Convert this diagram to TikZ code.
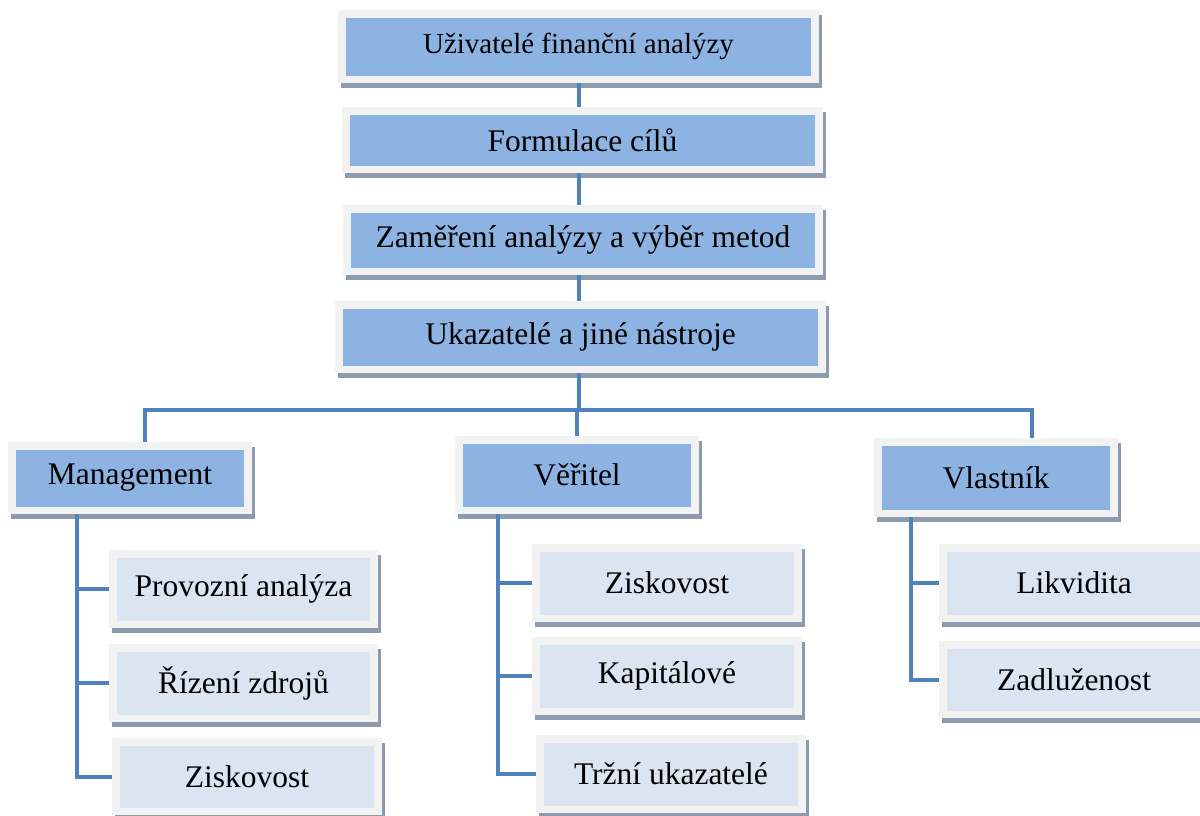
\documentclass[tikz,border=0pt]{standalone}
\usepackage{fontspec}
\setmainfont{Liberation Serif}
\usetikzlibrary{shadows}
\definecolor{dkfill}{HTML}{8DB3E2}
\definecolor{ltfill}{HTML}{DBE5F1}
\definecolor{rim}{HTML}{F2F2F2}
\definecolor{shc}{HTML}{8E9BAE}
\definecolor{ln}{HTML}{4F81BD}
\tikzset{
  boxbase/.style={rectangle, inner sep=0pt, fill=rim, align=center,
    drop shadow={shadow xshift=3pt, shadow yshift=-5pt, fill=shc, opacity=1}},
  dkbox/.style={boxbase, path picture={\fill[dkfill]
      ([xshift=8pt,yshift=-8pt]path picture bounding box.north west) rectangle
      ([xshift=-8pt,yshift=7pt]path picture bounding box.south east);},
    font=\fontsize{31.5}{34}\selectfont},
  ltbox/.style={boxbase, path picture={\fill[ltfill]
      ([xshift=8pt,yshift=-8pt]path picture bounding box.north west) rectangle
      ([xshift=-8pt,yshift=7pt]path picture bounding box.south east);},
    font=\fontsize{31.5}{34}\selectfont},
  conn/.style={draw=ln, line width=4pt},
}
\begin{document}
\begin{tikzpicture}[x=1pt,y=-1pt]
\useasboundingbox (0,0) rectangle (1200,816);
% top chain
\node[dkbox, minimum width=481pt, minimum height=73pt, font=\fontsize{29}{32}\selectfont] (n1) at (578.5,46.5) {Uživatelé finanční analýzy};
\node[dkbox, minimum width=481pt, minimum height=66pt] (n2) at (582.5,140) {Formulace cílů};
\node[dkbox, minimum width=480pt, minimum height=70pt] (n3) at (583,240) {Zaměření analýzy a výběr metod};
\node[dkbox, minimum width=491pt, minimum height=72pt] (n4) at (580.5,337) {Ukazatelé a jiné nástroje};
% second level
\node[dkbox, minimum width=244pt, minimum height=72pt] (mg) at (130,478) {Management};
\node[dkbox, minimum width=244pt, minimum height=78pt] (ve) at (577,475) {Věřitel};
\node[dkbox, minimum width=244pt, minimum height=79pt] (vl) at (996,477.5) {Vlastník};
% management children
\node[ltbox, minimum width=269pt, minimum height=78pt] (pa) at (243.5,589) {Provozní analýza};
\node[ltbox, minimum width=269pt, minimum height=78pt] (rz) at (243.5,683) {Řízení zdrojů};
\node[ltbox, minimum width=270pt, minimum height=77pt] (mz) at (247,776.5) {Ziskovost};
% veritel children
\node[ltbox, minimum width=270pt, minimum height=78pt] (vz) at (667,583) {Ziskovost};
\node[ltbox, minimum width=270pt, minimum height=78pt] (vk) at (667,676) {Kapitálové};
\node[ltbox, minimum width=270pt, minimum height=78pt] (vt) at (671,774) {Tržní ukazatelé};
% vlastnik children
\node[ltbox, minimum width=270pt, minimum height=78pt] (lk) at (1074,583) {Likvidita};
\node[ltbox, minimum width=270pt, minimum height=77pt] (zd) at (1074,679.5) {Zadluženost};
% coordinates
\coordinate (bus) at (578.5,410);
\coordinate (busL) at (145,410);
\coordinate (busR) at (1032,410);
\coordinate (mgx) at (77,0);
\coordinate (vex) at (498,0);
\coordinate (vlx) at (911,0);
% connectors
\draw[conn] (n1.south) -- (n1.south |- n2.north);
\draw[conn] (n1.south |- n2.south) -- (n1.south |- n3.north);
\draw[conn] (n1.south |- n3.south) -- (n1.south |- n4.north);
\draw[conn] (n1.south |- n4.south) -- (bus);
\draw[conn] (busL |- mg.north) -- (busL) -- (busR) -- (busR |- vl.north);
\draw[conn] (ve.north) -- (ve.north |- bus);
\draw[conn] (mgx |- mg.south) -- (mgx |- mz.west) -- (mz.west);
\draw[conn] (mgx |- pa.west) -- (pa.west);
\draw[conn] (mgx |- rz.west) -- (rz.west);
\draw[conn] (vex |- ve.south) -- (vex |- vt.west) -- (vt.west);
\draw[conn] (vex |- vz.west) -- (vz.west);
\draw[conn] (vex |- vk.west) -- (vk.west);
\draw[conn] (vlx |- vl.south) -- (vlx |- zd.west) -- (zd.west);
\draw[conn] (vlx |- lk.west) -- (lk.west);
\end{tikzpicture}
\end{document}
